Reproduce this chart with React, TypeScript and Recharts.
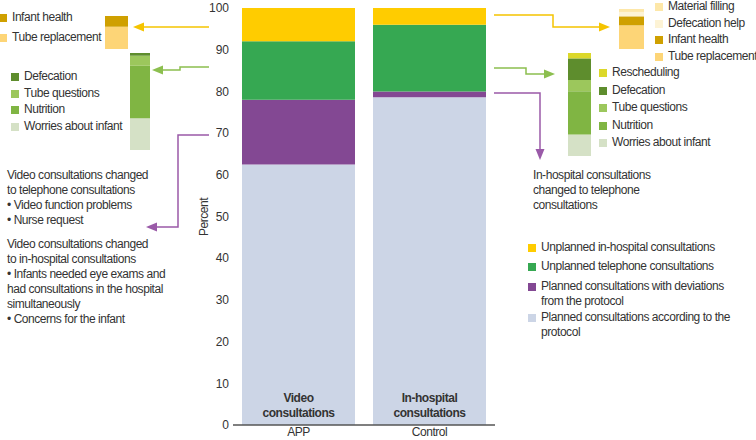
import { BarChart, Bar, XAxis, YAxis, LabelList } from "recharts";

const FONT = '"Liberation Sans", Arial, Helvetica, sans-serif';
const TEXT = "#333";
const SPACING = "-0.45px";

// main bars (percent of consultations)
const groups = ["APP", "Control"];
const inBarTitles = [
  ["Video", "consultations"],
  ["In-hospital", "consultations"],
];
const protocolPct = [62.5, 78.6];
const deviationPct = [15.5, 1.4];
const telephonePct = [14, 16];
const inHospitalPct = [8, 4];

const seriesNames = [
  "Planned consultations according to the\nprotocol",
  "Planned consultations with deviations\nfrom the protocol",
  "Unplanned telephone consultations",
  "Unplanned in-hospital consultations",
];
const seriesKeys = ["protocol", "deviation", "telephone", "inHospital"];
const seriesColors = ["#ccd5e6", "#834893", "#36a852", "#ffcc00"];

// breakdowns (top to bottom, as in their legends)
const appHospitalNames = ["Infant health", "Tube replacement"];
const appHospitalValues = [2.6, 5.4];
const appHospitalColors = ["#cfa000", "#fdd577"];

const appPhoneNames = ["Defecation", "Tube questions", "Nutrition", "Worries about infant"];
const appPhoneValues = [0.65, 2.4, 12.5, 7.6];
const phoneColors = ["#5e8d2d", "#9cc75c", "#80b543", "#d5e1c6"];

const ctrlHospitalNames = ["Material filling", "Defecation help", "Infant health", "Tube replacement"];
const ctrlHospitalValues = [0.7, 1.05, 2.15, 5.65];
const ctrlHospitalColors = ["#fde7a8", "#fdf3d5", "#cfa000", "#fdd577"];

const ctrlPhoneNames = ["Rescheduling", "Defecation", "Tube questions", "Nutrition", "Worries about infant"];
const ctrlPhoneValues = [1.3, 5.2, 2.7, 10.4, 5.2];
const ctrlPhoneColors = ["#dcd82a", "#5e8d2d", "#9cc75c", "#80b543", "#d5e1c6"];

const PX_PER_UNIT = 4.17;

const mainData = groups.map((g, i) => ({
  name: g,
  protocol: protocolPct[i],
  deviation: deviationPct[i],
  telephone: telephonePct[i],
  inHospital: inHospitalPct[i],
}));

function MiniStack({ values, colors, left, bottom, width }: { values: number[]; colors: string[]; left: number; bottom: number; width: number }) {
  const total = values.reduce((a, b) => a + b, 0);
  const height = Math.round(total * PX_PER_UNIT);
  const row: Record<string, number | string> = { name: "x" };
  values.forEach((v, i) => (row["s" + i] = v));
  // recharts stacks the first Bar at the bottom, so go from the last segment up
  const order = values.map((_, i) => i).reverse();
  return (
    <div style={{ position: "absolute", left, top: bottom - height }}>
      <BarChart width={width} height={height} data={[row]} margin={{ top: 0, right: 0, bottom: 0, left: 0 }} barCategoryGap={0}>
        <XAxis dataKey="name" hide />
        <YAxis hide domain={[0, total]} />
        {order.map((i) => (
          <Bar key={i} dataKey={"s" + i} stackId="a" fill={colors[i]} isAnimationActive={false} />
        ))}
      </BarChart>
    </div>
  );
}

function Key({ x, cy, color, label }: { x: number; cy: number; color: string; label: string }) {
  return (
    <div style={{ position: "absolute", left: x, top: cy - 8, display: "flex", alignItems: "flex-start", whiteSpace: "pre", letterSpacing: SPACING }}>
      <div style={{ width: 8, height: 8, background: color, marginTop: 4, flex: "none" }} />
      <div style={{ marginLeft: 5, lineHeight: "15px" }}>{label}</div>
    </div>
  );
}

const inBarLabel = (p: any) => {
  const lines = inBarTitles[p.index] || [];
  const cx = p.x + p.width / 2;
  const base = p.y + p.height;
  return (
    <g>
      {lines.map((t, k) => (
        <text key={k} x={cx} y={base - 27 + k * 15} dy="0.35em" textAnchor="middle" fontWeight="bold" fontSize={12} fill={TEXT} fontFamily={FONT} letterSpacing={SPACING}>
          {t}
        </text>
      ))}
    </g>
  );
};

function Arrow({ d, color, tip, dir }: { d: string; color: string; tip: [number, number]; dir: "left" | "right" | "down" }) {
  const [x, y] = tip;
  let head = "";
  if (dir === "left") head = `${x},${y} ${x + 11},${y - 4.5} ${x + 11},${y + 4.5}`;
  if (dir === "right") head = `${x},${y} ${x - 11},${y - 4.5} ${x - 11},${y + 4.5}`;
  if (dir === "down") head = `${x},${y} ${x - 4.5},${y - 11} ${x + 4.5},${y - 11}`;
  return (
    <g>
      <path d={d} fill="none" stroke={color} strokeWidth={1.5} />
      <polygon points={head} fill={color} />
    </g>
  );
}

export default function App() {
  return (
    <div style={{ position: "absolute", left: 0, top: 0, width: 756, height: 440, background: "#fff", fontFamily: FONT, fontSize: 12, color: TEXT, overflow: "hidden" }}>
      <div style={{ position: "absolute", left: 0, top: 0 }}>
        <BarChart width={756} height={440} data={mainData} margin={{ top: 8, right: 261, bottom: 0, left: 193 }} barCategoryGap={9}>
          <YAxis
            width={40}
            domain={[0, 100]}
            ticks={[0, 10, 20, 30, 40, 50, 60, 70, 80, 90, 100]}
            axisLine={false}
            tickLine={false}
            tickSize={0}
            tickMargin={4}
            tick={{ fill: TEXT, fontSize: 12, fontFamily: FONT }}
          />
          <XAxis
            dataKey="name"
            height={15}
            axisLine={{ stroke: "#555", strokeWidth: 1.5 }}
            tickLine={false}
            tickSize={0}
            tickMargin={2}
            tick={{ fill: TEXT, fontSize: 12, fontFamily: FONT, letterSpacing: SPACING }}
          />
          {seriesKeys.map((k, i) => (
            <Bar key={k} dataKey={k} stackId="a" fill={seriesColors[i]} isAnimationActive={false}>
              {i === 0 && <LabelList dataKey="name" content={inBarLabel} />}
            </Bar>
          ))}
        </BarChart>
      </div>

      <MiniStack values={appHospitalValues} colors={appHospitalColors} left={105} bottom={49} width={23} />
      <MiniStack values={appPhoneValues} colors={phoneColors} left={130} bottom={150} width={20} />
      <MiniStack values={ctrlHospitalValues} colors={ctrlHospitalColors} left={619} bottom={49} width={25} />
      <MiniStack values={ctrlPhoneValues} colors={ctrlPhoneColors} left={568} bottom={156} width={23} />

      {/* breakdown keys */}
      {appHospitalNames.map((n, i) => (
        <Key key={n} x={-1} cy={[18, 38][i]} color={appHospitalColors[i]} label={n} />
      ))}
      {appPhoneNames.map((n, i) => (
        <Key key={n} x={11} cy={77 + i * 16.7} color={phoneColors[i]} label={n} />
      ))}
      {ctrlHospitalNames.map((n, i) => (
        <Key key={n} x={655} cy={7 + i * 16.6} color={ctrlHospitalColors[i]} label={n} />
      ))}
      {ctrlPhoneNames.map((n, i) => (
        <Key key={n} x={599} cy={73 + i * 17.5} color={ctrlPhoneColors[i]} label={n} />
      ))}

      {/* main legend, top series first */}
      {[3, 2, 1, 0].map((s, r) => (
        <Key key={s} x={528} cy={[248, 267, 287, 318][r]} color={seriesColors[s]} label={seriesNames[s]} />
      ))}

      {/* notes */}
      <div style={{ position: "absolute", left: 7, top: 168, lineHeight: "15px", letterSpacing: SPACING, whiteSpace: "nowrap" }}>
        <div>Video consultations changed<br />to telephone consultations</div>
        <div>• Video function problems</div>
        <div>• Nurse request</div>
      </div>
      <div style={{ position: "absolute", left: 7, top: 237, lineHeight: "15px", letterSpacing: SPACING, whiteSpace: "nowrap" }}>
        <div>Video consultations changed<br />to in-hospital consultations</div>
        <div>• Infants needed eye exams and<br />had consultations in the hospital<br />simultaneously</div>
        <div>• Concerns for the infant</div>
      </div>
      <div style={{ position: "absolute", left: 533, top: 168, lineHeight: "15px", letterSpacing: SPACING, whiteSpace: "nowrap" }}>
        In-hospital consultations<br />changed to telephone<br />consultations
      </div>

      <svg width={756} height={440} style={{ position: "absolute", left: 0, top: 0, pointerEvents: "none" }}>
        <text transform="translate(208,217) rotate(-90)" textAnchor="middle" fontSize={12} fill={TEXT} fontFamily={FONT} letterSpacing={SPACING}>
          Percent
        </text>
        <Arrow d="M209,27 H140" color="#f5c400" tip={[133, 27]} dir="left" />
        <Arrow d="M209,67 H180 V70 H158" color="#8cbf4f" tip={[152, 70]} dir="left" />
        <Arrow d="M209,135 H178 V227 H152" color="#9a5aa8" tip={[146, 227]} dir="left" />
        <Arrow d="M494,15 H553 V27 H604" color="#f5c400" tip={[610, 27]} dir="right" />
        <Arrow d="M494,68 H526 V74 H549" color="#8cbf4f" tip={[555, 74]} dir="right" />
        <Arrow d="M494,93 H540 V154" color="#9a5aa8" tip={[540, 160]} dir="down" />
      </svg>
    </div>
  );
}
